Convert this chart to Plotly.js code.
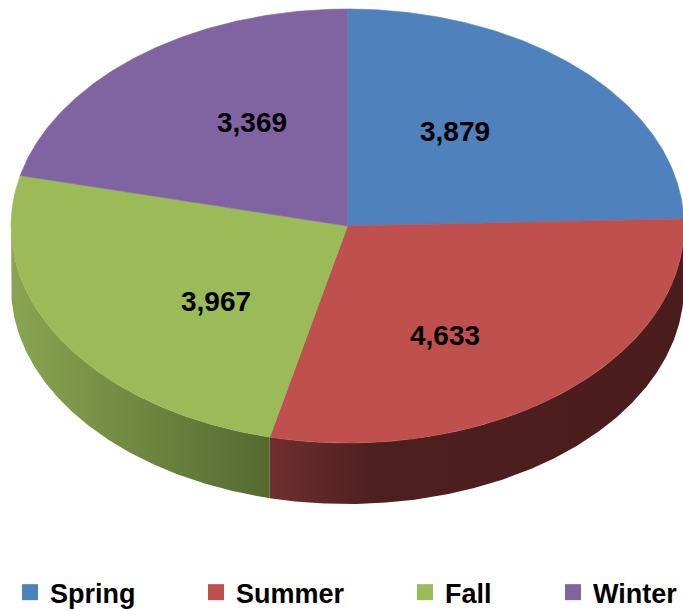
<!DOCTYPE html>
<html><head><meta charset="utf-8">
<script src="https://cdn.plot.ly/plotly-3.0.1.min.js"></script>
<style>html,body{margin:0;padding:0;background:#fff}#chart{width:683px;height:611px}</style>
</head><body><div id="chart"></div>
<script>
// ---- data ----
const categories = ['Spring', 'Summer', 'Fall', 'Winter'];
const values = [3879, 4633, 3967, 3369];

// ---- styles ----
const topColors = ['#4F81BD', '#C0504D', '#9BBB59', '#8064A2'];
const sideScales = [
  [[0, '#3f6797'], [1, '#2a4565']],
  [[0, '#6f2f2e'], [0.25, '#4e1f1f'], [1, '#4a1d1c']],
  [[0, '#8aa552'], [1, '#55692f']],
  [[0, '#66508a'], [1, '#45365e']]
];
const FONT = 'Liberation Sans, Arial, sans-serif';
const LEG_SIZE = 27;

const W = 683, H = 611;
const cx = 347.5, cy = 226, rx = 336.5, ry = 217, depth = 61;
const total = values.reduce((a, b) => a + b, 0);
const deg = Math.PI / 180;
function pt(th, dy) { return [cx + rx * Math.sin(th), cy - ry * Math.cos(th) + (dy || 0)]; }
function arc(a, b, dy) {
  const n = Math.max(8, Math.ceil(Math.abs(b - a) / deg) * 2);
  const xs = [], ys = [];
  for (let i = 0; i <= n; i++) { const p = pt(a + (b - a) * i / n, dy); xs.push(p[0]); ys.push(p[1]); }
  return [xs, ys];
}

let acc = 0;
const slices = values.map((v, i) => { const a = acc; acc += v / total * 2 * Math.PI; return { a: a, b: acc, i: i }; });

const traces = [];
// side walls (front half only)
slices.forEach(s => {
  const a = Math.max(s.a, Math.PI / 2), b = Math.min(s.b, 1.5 * Math.PI);
  if (b <= a) return;
  const [tx, ty] = arc(a, b, 0);
  const [bx, by] = arc(b, a, depth);
  traces.push({
    type: 'scatter', mode: 'lines', x: tx.concat(bx), y: ty.concat(by),
    fill: 'toself', fillcolor: sideScales[s.i][1][1],
    fillgradient: { type: 'horizontal', colorscale: sideScales[s.i] },
    line: { width: 0 }, hoverinfo: 'skip', showlegend: false
  });
});
// top faces
slices.forEach(s => {
  const [ax, ay] = arc(s.a, s.b, 0);
  traces.push({
    type: 'scatter', mode: 'lines', x: [cx].concat(ax, [cx]), y: [cy].concat(ay, [cy]),
    fill: 'toself', fillcolor: topColors[s.i],
    line: { width: 0.6, color: topColors[s.i] },
    name: categories[s.i], hoverinfo: 'name', showlegend: false
  });
});

// legend entries
const cv = document.createElement('canvas').getContext('2d');
cv.font = 'bold ' + LEG_SIZE + 'px "Liberation Sans"';
categories.forEach((c, i) => {
  const tw = cv.measureText(c).width;
  traces.push({
    type: 'scatter', mode: 'markers', x: [null], y: [null], name: c,
    marker: { symbol: 'square', size: 16, color: topColors[i] },
    legendwidth: Math.round(tw + (i < categories.length - 1 ? 56 : 0)),
    hoverinfo: 'skip'
  });
});

// data labels
const annotations = slices.map(s => {
  const mid = (s.a + s.b) / 2;
  return {
    xref: 'x', yref: 'y',
    x: cx + 0.46 * rx * Math.sin(mid),
    y: cy - 0.63 * ry * Math.cos(mid) + 4,
    text: values[s.i].toLocaleString('en-US'),
    showarrow: false,
    font: { family: FONT, size: 28, weight: 'bold', color: '#000' }
  };
});

const layout = {
  width: W, height: H,
  margin: { l: 0, r: 0, t: 0, b: 0, autoexpand: false },
  paper_bgcolor: '#fff', plot_bgcolor: '#fff',
  xaxis: { range: [0, W], visible: false, fixedrange: true },
  yaxis: { range: [H, 0], visible: false, fixedrange: true },
  showlegend: true,
  legend: {
    orientation: 'h', x: 10 / W, xanchor: 'left', y: -0.01, yanchor: 'bottom',
    bgcolor: 'rgba(0,0,0,0)', borderwidth: 0,
    font: { family: FONT, size: LEG_SIZE, weight: 'bold', color: '#000' }
  },
  annotations: annotations
};

Plotly.newPlot('chart', traces, layout, { displayModeBar: false, staticPlot: true });
</script>
</body></html>
